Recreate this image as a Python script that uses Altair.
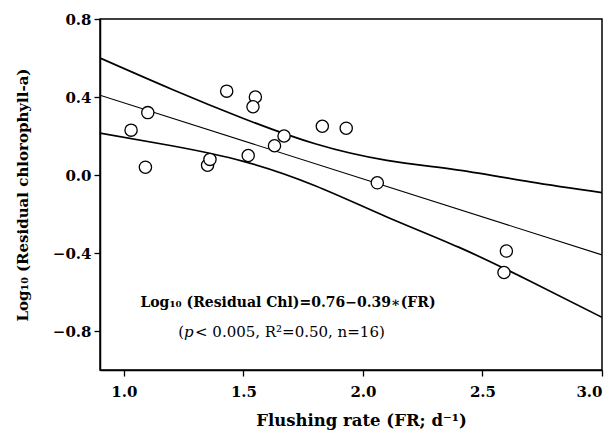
import altair as alt
import pandas as pd

fr = [1.03, 1.10, 1.09, 1.43, 1.35, 1.36, 1.55, 1.54, 1.52, 1.63, 1.67, 1.83, 1.93, 2.06, 2.60, 2.59]
chl = [0.23, 0.32, 0.04, 0.43, 0.05, 0.08, 0.40, 0.35, 0.10, 0.15, 0.20, 0.25, 0.24, -0.04, -0.39, -0.50]

# Regression line endpoints (0.76 - 0.39*FR)
fit_x = [0.9, 3.0]
fit_y = [0.409, -0.41]

# Confidence band curves
band_x = [0.9, 1.2, 1.5, 1.8, 2.1, 2.4, 2.7, 3.0]
band_upper = [0.60, 0.44, 0.29, 0.16, 0.075, 0.025, -0.035, -0.09]
band_lower = [0.215, 0.15, 0.07, -0.055, -0.215, -0.37, -0.545, -0.73]

pts = pd.DataFrame({"x": fr, "y": chl})
fit = pd.DataFrame({"x": fit_x, "y": fit_y})
band = pd.DataFrame({"x": band_x * 2, "y": band_upper + band_lower,
                     "b": ["upper"] * len(band_x) + ["lower"] * len(band_x)})

FONT = "DejaVu Serif"

xs = alt.Scale(domain=[0.9, 3.0], nice=False, zero=False)
ys = alt.Scale(domain=[-1.0, 0.8], nice=False, zero=False)

xax = alt.Axis(values=[1.0, 1.5, 2.0, 2.5, 3.0], format=".1f", title="Flushing rate (FR; d⁻¹)",
               grid=False, tickSize=6, labelPadding=8, titlePadding=13, titleFontSize=16.5, titleX=261)
yax = alt.Axis(values=[-0.8, -0.4, 0.0, 0.4, 0.8], format=".1f", title="Log₁₀ (Residual chlorophyll-a)",
               grid=False, tickSize=6, labelPadding=3, titlePadding=22)

fit_line = alt.Chart(fit).mark_line(color="black", strokeWidth=1.1, clip=True).encode(
    x=alt.X("x:Q", scale=xs, axis=xax),
    y=alt.Y("y:Q", scale=ys, axis=yax),
)
band_lines = alt.Chart(band).mark_line(color="black", strokeWidth=1.7, interpolate="natural", clip=True).encode(
    x=alt.X("x:Q", scale=xs), y=alt.Y("y:Q", scale=ys), detail="b:N"
)
points = alt.Chart(pts).mark_point(shape="circle", filled=True, fill="white", stroke="black",
                                   strokeWidth=1.3, size=150, opacity=1).encode(
    x=alt.X("x:Q", scale=xs), y=alt.Y("y:Q", scale=ys)
)

ann_df = pd.DataFrame({"t": [0]})
line1 = alt.Chart(ann_df).mark_text(text="Log₁₀ (Residual Chl)=0.76−0.39∗(FR)", font=FONT, fontSize=14,
                                    fontWeight="bold", align="center", baseline="middle").encode(
    x=alt.value(188), y=alt.value(284))
l2a = alt.Chart(ann_df).mark_text(text="(", font=FONT, fontSize=15, align="right",
                                  baseline="middle").encode(x=alt.value(84), y=alt.value(313))
l2b = alt.Chart(ann_df).mark_text(text="p", font=FONT, fontSize=15, fontStyle="italic", align="left",
                                  baseline="middle").encode(x=alt.value(84), y=alt.value(313))
l2c = alt.Chart(ann_df).mark_text(text="< 0.005, R²=0.50, n=16)", font=FONT, fontSize=15, align="left",
                                  baseline="middle").encode(x=alt.value(95), y=alt.value(313))

chart = alt.layer(band_lines, fit_line, points, line1, l2a, l2b, l2c).properties(
    width=502, height=351,
    autosize=alt.AutoSizeParams(type="none"),
    padding={"left": 100, "top": 19, "right": 14, "bottom": 63},
    background="white",
).configure_view(stroke="black", strokeWidth=1.5).configure_axis(
    domainColor="black", domainWidth=1.5, tickColor="black", tickWidth=1.3,
    labelFont=FONT, labelFontSize=15, labelFontWeight="bold", labelColor="black",
    titleFont=FONT, titleFontSize=15, titleFontWeight="bold", titleColor="black",
)

chart.save("out.html", embed_options={"renderer": "svg", "actions": False})
